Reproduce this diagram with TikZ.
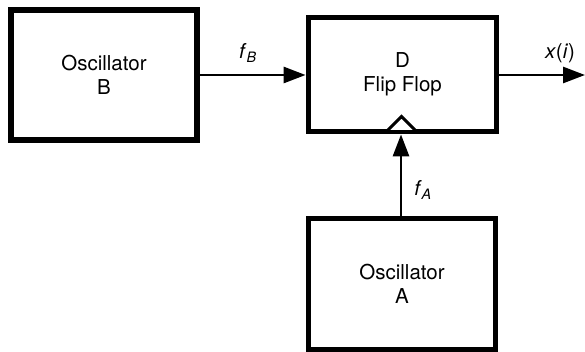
\documentclass[tikz,border=0pt]{standalone}
\usepackage{fontspec}
\setmainfont{TeX Gyre Heros}
\usetikzlibrary{arrows.meta}
\begin{document}
\begin{tikzpicture}[x=1pt,y=-1pt,
  blockbox/.style={draw, line width=5.8pt, align=center, font=\fontsize{20.5}{24}\selectfont, inner sep=0pt},
  sig/.style={line width=2.8pt, -{Triangle[length=22pt,width=16pt]}},
  lbl/.style={font=\fontsize{20.5}{24}\selectfont, inner sep=0pt}]
\useasboundingbox (0,0) rectangle (585,352);
\node[blockbox, minimum width=186.5pt, minimum height=130.5pt] (B) at (104,75) {Oscillator\\B};
\node[blockbox, minimum width=188pt, minimum height=114pt] (D) at (402.5,74.5) {D\\Flip Flop};
\node[blockbox, minimum width=187pt, minimum height=131pt] (A) at (402,284) {Oscillator\\A};
\coordinate (out) at (585,75);
\draw[sig] (B.east |- 0,75) -- (D.west |- 0,75);
\draw[sig] (D.east |- 0,75) -- (out);
\draw[sig] (A.north -| 401,0) -- (D.south -| 401,0);
\draw[line width=3pt, fill=white, line join=miter] (388,130) -- (401.5,116.5) -- (415,130);
\node[lbl] (fB) at (248,53) {\textit{f}\textsubscript{\textit{B}}};
\node[lbl] (x) at (560,53) {\textit{x}(\textit{i})};
\node[lbl] (fA) at (423,190) {\textit{f}\textsubscript{\textit{A}}};
\end{tikzpicture}
\end{document}
